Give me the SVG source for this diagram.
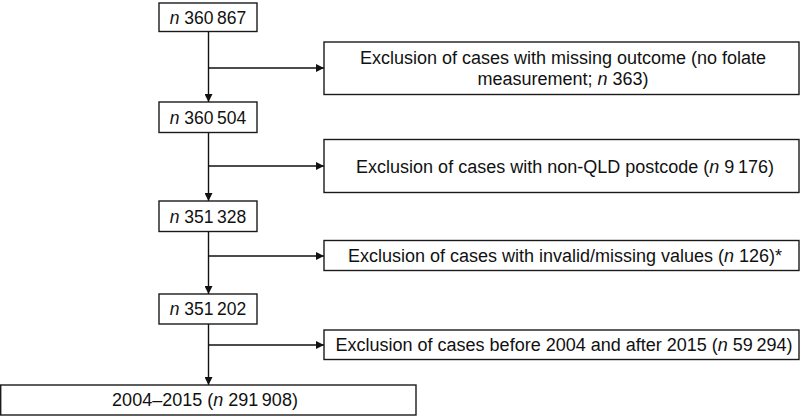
<svg xmlns="http://www.w3.org/2000/svg" width="801" height="417" viewBox="0 0 801 417">
<defs>
<style>
.box{fill:#fff;stroke:#1a1a1a;stroke-width:1.4}
.t{font-family:"Liberation Sans",Arial,sans-serif;font-size:17.5px;fill:#111;text-anchor:middle}
.w{font-size:18px}
.c{fill:none;stroke:#111;stroke-width:1.4}
</style>
<marker id="ah" viewBox="0 0 10 10" refX="10" refY="5" markerWidth="8" markerHeight="8" markerUnits="userSpaceOnUse" orient="auto">
<path d="M0,0 L10,5 L0,10 z" fill="#111"/>
</marker>
</defs>
<g id="connectors">
<line class="c" x1="208.5" y1="31.5" x2="208.5" y2="102" marker-end="url(#ah)"/>
<line class="c" x1="208.5" y1="68" x2="324" y2="68" marker-end="url(#ah)"/>
<line class="c" x1="208.5" y1="132.5" x2="208.5" y2="201" marker-end="url(#ah)"/>
<line class="c" x1="208.5" y1="166" x2="324" y2="166" marker-end="url(#ah)"/>
<line class="c" x1="208.5" y1="231.5" x2="208.5" y2="294" marker-end="url(#ah)"/>
<line class="c" x1="208.5" y1="256" x2="324" y2="256" marker-end="url(#ah)"/>
<line class="c" x1="208.5" y1="324" x2="208.5" y2="385" marker-end="url(#ah)"/>
<line class="c" x1="208.5" y1="345" x2="324" y2="345" marker-end="url(#ah)"/>
</g>
<g id="n1">
<rect class="box" x="159" y="3" width="98" height="28.5"/>
<text class="t" x="208" y="23.5"><tspan font-style="italic">n</tspan> 360&#8201;867</text>
</g>
<g id="x1">
<rect class="box" x="324" y="42" width="475" height="52.5"/>
<text class="t w" x="563" y="63.5">Exclusion of cases with missing outcome (no folate</text>
<text class="t w" x="563" y="84.5">measurement; <tspan font-style="italic">n</tspan> 363)</text>
</g>
<g id="n2">
<rect class="box" x="159" y="102" width="98" height="30.5"/>
<text class="t" x="208" y="123.5"><tspan font-style="italic">n</tspan> 360&#8201;504</text>
</g>
<g id="x2">
<rect class="box" x="324" y="139.5" width="475" height="53"/>
<text class="t w" x="565" y="172.5">Exclusion of cases with non-QLD postcode (<tspan font-style="italic">n</tspan> 9&#8201;176)</text>
</g>
<g id="n3">
<rect class="box" x="159" y="201" width="98" height="30.5"/>
<text class="t" x="208" y="222.5"><tspan font-style="italic">n</tspan> 351&#8201;328</text>
</g>
<g id="x3">
<rect class="box" x="324" y="240.5" width="475" height="30"/>
<text class="t w" x="565" y="261.5">Exclusion of cases with invalid/missing values (<tspan font-style="italic">n</tspan> 126)*</text>
</g>
<g id="n4">
<rect class="box" x="159" y="294" width="98" height="30"/>
<text class="t" x="208" y="315"><tspan font-style="italic">n</tspan> 351&#8201;202</text>
</g>
<g id="x4">
<rect class="box" x="324" y="330" width="475" height="29.5"/>
<text class="t w" x="564" y="351">Exclusion of cases before 2004 and after 2015 (<tspan font-style="italic">n</tspan> 59&#8201;294)</text>
</g>
<g id="n5">
<rect class="box" x="0.7" y="385" width="415.3" height="30"/>
<text class="t w" x="205" y="406">2004–2015 (<tspan font-style="italic">n</tspan> 291&#8201;908)</text>
</g>
</svg>
